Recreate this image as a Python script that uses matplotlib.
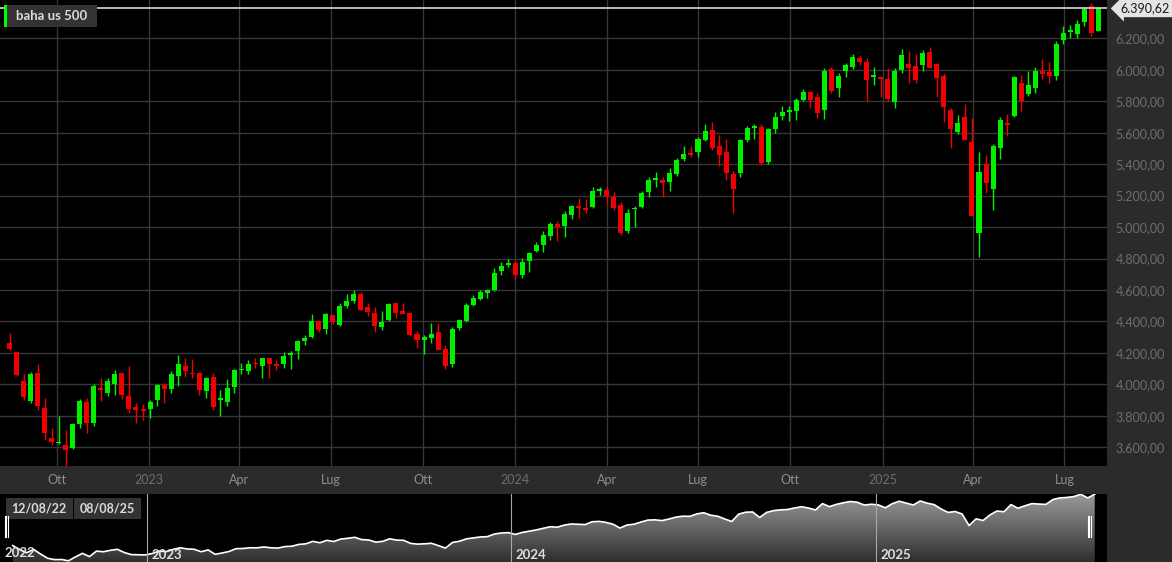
import matplotlib
matplotlib.use('Agg')
import matplotlib.pyplot as plt
import matplotlib.dates as mdates
from matplotlib.patches import Rectangle
from matplotlib.lines import Line2D
from matplotlib.colors import LinearSegmentedColormap
from matplotlib.transforms import blended_transform_factory
import numpy as np
import pandas as pd

plt.rcParams['font.family'] = ['Lato', 'DejaVu Sans']

# weekly candles, one per week (Monday = week start)
weeks = pd.date_range('2022-08-15', periods=156, freq='W-MON')

opens = [
    # 2022
    4262, 4205, 4018, 3895, 4069, 3850, 3660, 3625, 3617, 3598,
    3746, 3887, 3755, 3976, 3944, 4001, 4069, 3925, 3853, 3842,
    # 2023
    3842, 3898, 3993, 3972, 4052, 4117, 4073, 4071, 3959, 4044,
    3900, 3885, 3982, 4089, 4082, 4137, 4116, 4165, 4129, 4131,
    4188, 4211, 4275, 4300, 4404, 4350, 4441, 4377, 4496, 4530,
    4572, 4490, 4452, 4365, 4408, 4514, 4465, 4454, 4322, 4281,
    4294, 4330, 4222, 4127, 4360, 4400, 4504, 4544, 4583, 4598,
    4723, 4757,
    # 2024
    4770, 4694, 4784, 4848, 4886, 4942, 5018, 5009, 5079, 5134,
    5121, 5128, 5228, 5238, 5194, 5140, 4976, 5113, 5126, 5222,
    5299, 5299, 5288, 5336, 5430, 5469, 5476, 5554, 5617, 5516,
    5476, 5340, 5342, 5554, 5628, 5639, 5414, 5622, 5709, 5732,
    5738, 5808, 5857, 5825, 5745, 6004, 5885, 5995, 6019, 6076,
    6050, 5955, 5953,
    # 2025
    5942, 5798, 6000, 6038, 6025, 6031, 6116, 6040, 5962, 5745,
    5607, 5698, 5543, 4963, 5399, 5240, 5506, 5660, 5706, 5918,
    5846, 5887, 5995, 5987, 5961, 6192, 6243, 6229, 6303, 6407,
    6250]

highs = [
    4325, 4208, 4066, 4076, 4130, 3914, 3725, 3797, 3711, 3757,
    3906, 3910, 3999, 4037, 4037, 4094, 4072, 4116, 3880, 3872,
    3899, 4000, 4007, 4084, 4188, 4170, 4158, 4075, 4045, 4071,
    3966, 4035, 4100, 4137, 4157, 4169, 4170, 4170, 4152, 4203,
    4209, 4284, 4316, 4445, 4404, 4456, 4441, 4517, 4572, 4602,
    4587, 4520, 4492, 4466, 4520, 4514, 4514, 4458, 4337, 4316,
    4392, 4392, 4252, 4365, 4415, 4520, 4568, 4599, 4609, 4739,
    4778, 4795,
    4787, 4802, 4842, 4905, 4974, 5030, 5040, 5104, 5140, 5185,
    5181, 5258, 5257, 5253, 5226, 5160, 5112, 5134, 5230, 5320,
    5350, 5316, 5374, 5442, 5516, 5518, 5575, 5656, 5669, 5584,
    5558, 5355, 5562, 5643, 5656, 5656, 5630, 5730, 5768, 5770,
    5823, 5878, 5864, 5851, 6010, 6020, 5978, 6041, 6099, 6091,
    6078, 6020, 5953,
    6014, 6010, 6133, 6117, 6101, 6127, 6144, 6044, 5983, 5760,
    5713, 5781, 5692, 5480, 5458, 5528, 5698, 5719, 5959, 5966,
    5993, 6016, 6068, 6049, 6182, 6282, 6286, 6318, 6399, 6428,
    6395]

lows = [
    4218, 4050, 3898, 3880, 3835, 3645, 3611, 3621, 3481, 3590,
    3721, 3689, 3734, 3895, 3925, 3934, 3908, 3819, 3755, 3774,
    3787, 3865, 3883, 3946, 3988, 4046, 4042, 3934, 3912, 3838,
    3800, 3863, 3946, 4063, 4067, 4103, 4042, 4042, 4093, 4105,
    4099, 4163, 4252, 4294, 4332, 4322, 4386, 4370, 4488, 4520,
    4470, 4434, 4332, 4347, 4400, 4424, 4446, 4310, 4233, 4195,
    4265, 4220, 4097, 4113, 4343, 4398, 4500, 4537, 4546, 4593,
    4693, 4748,
    4664, 4674, 4713, 4842, 4844, 4920, 4913, 4939, 5050, 5058,
    5088, 5120, 5202, 5145, 5107, 4952, 4963, 5002, 5124, 5193,
    5252, 5189, 5231, 5324, 5418, 5444, 5444, 5550, 5490, 5388,
    5299, 5087, 5320, 5540, 5559, 5395, 5400, 5600, 5683, 5673,
    5683, 5800, 5759, 5696, 5690, 5851, 5829, 5957, 6008, 6030,
    5800, 5902, 5826,
    5802, 5759, 5982, 5915, 5919, 5995, 6010, 5829, 5669, 5501,
    5590, 5556, 5069, 4808, 5214, 5108, 5431, 5579, 5700, 5740,
    5834, 5855, 5944, 5915, 5936, 6167, 6201, 6201, 6282, 6216,
    6245]

closes = [
    4226, 4057, 3920, 4063, 3865, 3688, 3630, 3635, 3581, 3746,
    3895, 3757, 3989, 3963, 4023, 4065, 3929, 3842, 3836, 3829,
    3889, 3993, 3968, 4063, 4129, 4082, 4067, 3963, 4040, 3855,
    3910, 3974, 4093, 4100, 4131, 4129, 4165, 4129, 4118, 4182,
    4196, 4273, 4297, 4402, 4343, 4444, 4395, 4499, 4530, 4572,
    4475, 4460, 4369, 4399, 4510, 4455, 4446, 4316, 4284, 4299,
    4320, 4220, 4118, 4354, 4407, 4507, 4549, 4587, 4600, 4710,
    4753, 4770,
    4694, 4778, 4833, 4884, 4952, 5018, 4999, 5085, 5134, 5121,
    5110, 5228, 5244, 5200, 5124, 4963, 5092, 5124, 5217, 5299,
    5310, 5278, 5342, 5425, 5464, 5456, 5560, 5609, 5505, 5460,
    5346, 5240, 5552, 5630, 5643, 5408, 5622, 5699, 5732, 5745,
    5810, 5861, 5808, 5726, 5995, 5866, 5963, 6031, 6084, 6050,
    5934, 5967, 5940,
    5817, 5993, 6095, 6014, 5936, 6106, 6014, 5951, 5766, 5622,
    5661, 5556, 5069, 5352, 5282, 5518, 5682, 5651, 5953, 5800,
    5902, 5995, 5974, 5961, 6165, 6235, 6254, 6292, 6388, 6235,
    6390.62]

last_price = 6390.62
price_ticks = list(range(3600, 6201, 200))
quarter_starts = pd.date_range('2022-10-01', '2025-07-01', freq='QS')
month_names = {1: None, 4: 'Apr', 7: 'Lug', 10: 'Ott'}
range_labels = ['12/08/22', '08/08/25']

GREEN = '#00f000'
RED = '#f00000'
BG = '#2b2b2b'
GRID = '#363636'


def it_num(v):
    '''format number the italian way: 6.200,00'''
    s = '{:,.2f}'.format(v)
    return s.replace(',', 'X').replace('.', ',').replace('X', '.')


W, H = 1172, 562
fig = plt.figure(figsize=(W / 100, H / 100), dpi=100, facecolor=BG)

# ---- main candle chart
ax = fig.add_axes([0, 96 / H, 1107 / W, 466 / H], facecolor='black')
o = np.array(opens, dtype=float)
h = np.array(highs, dtype=float)
l = np.array(lows, dtype=float)
c = np.array(closes, dtype=float)
x = mdates.date2num(weeks)
cols = np.where(c >= o, GREEN, RED)

ax.vlines(x, l, h, colors=cols, lw=1.0, zorder=3)
body_h = np.maximum(np.abs(c - o), 7)
body_b = np.minimum(o, c)
body_b = np.where(np.abs(c - o) < 7, (o + c) / 2 - 3.5, body_b)
ax.bar(x, body_h, bottom=body_b, width=5.0, color=cols, lw=0, zorder=4)

ax.axhline(last_price, color='#d9d9d9', lw=1.2, zorder=5)

day_px = 1.0036
x0 = mdates.date2num(pd.Timestamp('2022-10-01')) - 56.7 / day_px
ax.set_xlim(x0, x0 + 1107 / day_px)
ax.set_ylim(3480.4, 6444.2)

ax.set_yticks(price_ticks)
ax.set_yticklabels([it_num(v) for v in price_ticks])
ax.yaxis.tick_right()
ax.tick_params(axis='y', length=0, pad=6, labelsize=9, labelcolor='#6e6e6e')

ax.set_xticks(mdates.date2num(quarter_starts))
ax.set_xticklabels([str(d.year) if d.month == 1 else month_names[d.month] for d in quarter_starts])
ax.tick_params(axis='x', length=0, pad=6, labelsize=9, labelcolor='#8e8e8e')
for lab, d in zip(ax.get_xticklabels(), quarter_starts):
    if d.month == 1:
        lab.set_color('#6e6e6e')

ax.grid(True, color=GRID, lw=1)
ax.set_axisbelow(True)
for s in ax.spines.values():
    s.set_visible(False)

# last price tag
tr = blended_transform_factory(ax.transAxes, ax.transData)
ax.text(1.012, last_price, it_num(last_price), transform=tr, ha='left', va='center',
        fontsize=9, color='#1a1a1a', zorder=6, clip_on=False,
        bbox=dict(boxstyle='larrow,pad=0.22', fc='#e4e4e4', ec='none'))

# legend box
fig.add_artist(Rectangle((4 / W, 1 - 27 / H), 93 / W, 22 / H, transform=fig.transFigure,
                         fc='#333333', ec='none'))
fig.add_artist(Rectangle((4 / W, 1 - 27 / H), 2.5 / W, 22 / H, transform=fig.transFigure,
                         fc='#00ff00', ec='none'))
fig.text(16 / W, 1 - 16.5 / H, 'baha us 500', ha='left', va='center', fontsize=9.5,
         weight='bold', color='#dcdcdc')

# ---- navigator
nav = fig.add_axes([0, 0, 1107 / W, 68 / H], facecolor='black')
nday = 0.9973
nx0 = mdates.date2num(pd.Timestamp('2023-01-01')) - 147.3 / nday
nav.set_xlim(nx0, nx0 + 1107 / nday)
nav.set_ylim(3530, 6400)
xn = x + 4

poly = nav.fill_between(xn, c, 3530, color='none', lw=0)
cmap = LinearSegmentedColormap.from_list('g', ['#2e2e2e', '#9a9a9a'])
grad = np.linspace(0, 1, 256).reshape(-1, 1)
im = nav.imshow(grad, extent=[xn[0], xn[-1], 3530, 6400], origin='lower', aspect='auto',
                cmap=cmap, zorder=1)
im.set_clip_path(poly.get_paths()[0], transform=nav.transData)
nav.plot(xn, c, color='white', lw=1.2, zorder=2)
nav.set_xlim(nx0, nx0 + 1107 / nday)
nav.set_ylim(3530, 6400)

for yr in [2023, 2024, 2025]:
    d = mdates.date2num(pd.Timestamp(f'{yr}-01-01'))
    nav.axvline(d, color='#a8a8a8', lw=0.8, zorder=3)
    nav.text(d + 4 / nday, 3560, str(yr), fontsize=9.5, weight='bold', color='#e0e0e0',
             ha='left', va='bottom', zorder=4)
nav.text(4 / 1107, 0.04, '2022', transform=nav.transAxes, fontsize=9.5, weight='bold',
         color='#e0e0e0', ha='left', va='bottom', zorder=4)
nav.set_xticks([])
nav.set_yticks([])
for s in nav.spines.values():
    s.set_visible(False)

# range handles
for hx in [4.5, 6, 7.5, 1087.5, 1089, 1090.5]:
    fig.add_artist(Line2D([hx / W, hx / W], [1 - 537 / H, 1 - 516 / H],
                          transform=fig.transFigure, color='white', lw=0.8))

# range date boxes
for lab, bx in zip(range_labels, [6, 74]):
    fig.add_artist(Rectangle((bx / W, 1 - 519 / H), 66.5 / W, 21 / H, transform=fig.transFigure,
                             fc='#333333', ec='none'))
    fig.text((bx + 33.25) / W, 1 - 508.5 / H, lab, ha='center', va='center', fontsize=9,
             weight='bold', color='#dcdcdc')

fig.savefig('out.png', dpi=100, facecolor=fig.get_facecolor())
